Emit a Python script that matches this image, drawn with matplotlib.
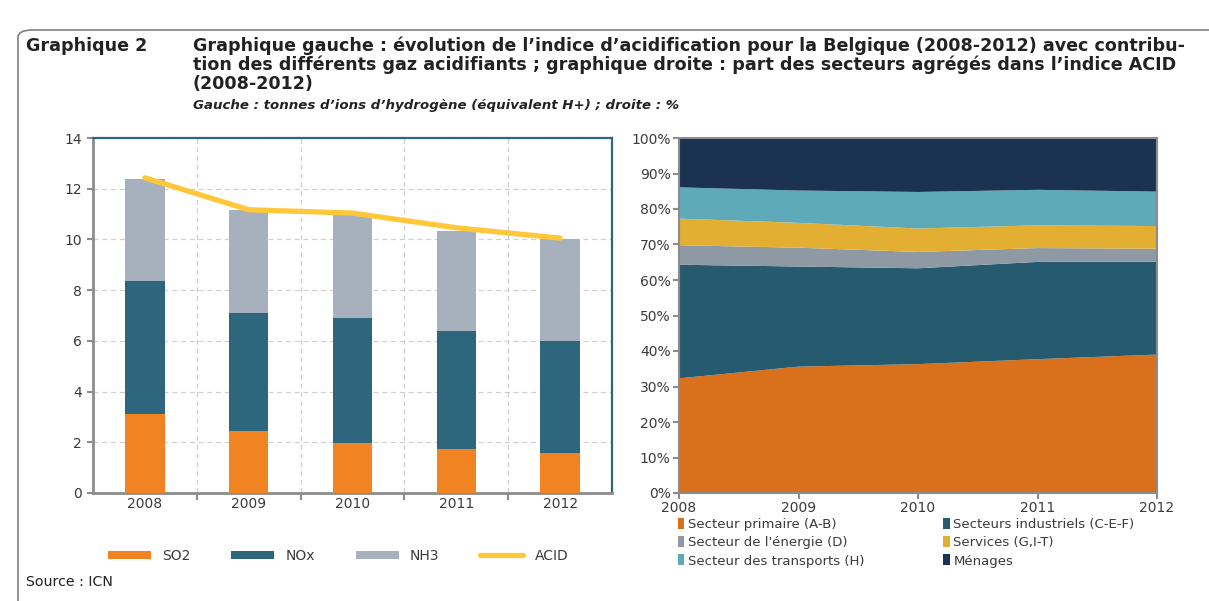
import matplotlib.pyplot as plt
import numpy as np
from matplotlib.patches import Patch, FancyBboxPatch
from matplotlib.lines import Line2D

plt.rcParams['font.family'] = ['DejaVu Sans']

years = ["2008", "2009", "2010", "2011", "2012"]

# left chart: tonnes d'ions H+
so2 = [3.13, 2.44, 1.98, 1.75, 1.59]
nox = [5.23, 4.67, 4.93, 4.64, 4.42]
nh3 = [4.03, 4.06, 4.04, 3.96, 4.02]
acid = [12.43, 11.17, 11.04, 10.46, 10.05]

# right chart: shares in %
sectors = ["Secteur primaire (A-B)", "Secteurs industriels (C-E-F)",
           "Secteur de l'énergie (D)", "Services (G,I-T)",
           "Secteur des transports (H)", "Ménages"]
primaire = [32.3, 35.6, 36.3, 37.7, 39.0]
industrie = [32.0, 28.2, 27.0, 27.4, 26.2]
energie = [5.5, 5.3, 4.6, 3.9, 3.6]
services = [7.5, 7.0, 6.6, 6.4, 6.4]
transports = [8.8, 9.1, 10.3, 10.0, 9.7]
menages = [13.9, 14.8, 15.2, 14.6, 15.1]

c_so2, c_nox, c_nh3, c_acid = "#F28322", "#2E677D", "#A7B1BE", "#FFC83A"
sector_colors = ["#D9711C", "#265A6E", "#8F99A3", "#E2AF32", "#5FAAB8", "#1B3350"]
txt = "#3a3a3a"

fig = plt.figure(figsize=(12.09, 6.01), dpi=100)
W, H = 1209, 601

def fx(px):
    return px / W

def fy(py):
    return 1 - py / H

# outer frame
frame = FancyBboxPatch((fx(18), fy(640)), fx(1230 - 18), fy(30) - fy(640),
                       boxstyle="round,pad=0,rounding_size=0.012",
                       transform=fig.transFigure, fill=False,
                       edgecolor="#7f7f7f", linewidth=1.2)
fig.patches.append(frame)

# titles
fig.text(fx(26), fy(46), "Graphique 2", fontsize=12.6, weight="bold",
         va="center", ha="left", color="#222222")
title_lines = [
    "Graphique gauche : évolution de l’indice d’acidification pour la Belgique (2008-2012) avec contribu-",
    "tion des différents gaz acidifiants ; graphique droite : part des secteurs agrégés dans l’indice ACID",
    "(2008-2012)",
]
for i, line in enumerate(title_lines):
    fig.text(fx(193), fy(46 + 19 * i), line, fontsize=12.6, weight="bold",
             va="center", ha="left", color="#222222")
fig.text(fx(193), fy(105), "Gauche : tonnes d’ions d’hydrogène (équivalent H+) ; droite : %",
         fontsize=9.6, weight="bold", style="italic", va="center", ha="left",
         color="#222222")
fig.text(fx(26), fy(582), "Source : ICN", fontsize=10.2, va="center", ha="left",
         color="#222222")

# ---- left chart ----
ax1 = fig.add_axes([fx(93), fy(493), fx(612) - fx(93), fy(138) - fy(493)])
x = np.arange(len(years))
bw = 0.38
so2_a, nox_a, nh3_a = np.array(so2), np.array(nox), np.array(nh3)
ax1.bar(x, so2_a, bw, color=c_so2, zorder=3)
ax1.bar(x, nox_a, bw, bottom=so2_a, color=c_nox, zorder=3)
ax1.bar(x, nh3_a, bw, bottom=so2_a + nox_a, color=c_nh3, zorder=3)
ax1.plot(x, acid, color=c_acid, linewidth=3.8, solid_capstyle="round", zorder=4)

ax1.set_xlim(-0.5, len(years) - 0.5)
ax1.set_ylim(0, 14)
ax1.set_yticks(np.arange(0, 15, 2))
ax1.set_xticks(x)
ax1.set_xticklabels(years)
ax1.set_xticks(np.arange(0.5, len(years) - 0.5, 1), minor=True)
ax1.tick_params(axis="x", which="major", length=0, pad=3, labelsize=10, labelcolor=txt)
ax1.tick_params(axis="x", which="minor", length=5, width=1.5, color="#8c8c8c", direction="out")
ax1.tick_params(axis="y", length=4, width=1.5, color="#8c8c8c", labelsize=10,
                labelcolor=txt, pad=4)
ax1.grid(axis="y", linestyle=(0, (4, 3)), color="#d0d0d0", linewidth=0.9, zorder=0)
for xv in np.arange(0.5, len(years) - 0.5, 1):
    ax1.axvline(xv, linestyle=(0, (4, 3)), color="#d0d0d0", linewidth=0.9, zorder=0)
for s in ["left", "bottom"]:
    ax1.spines[s].set_color("#8c8c8c")
    ax1.spines[s].set_linewidth(2)
for s in ["top", "right"]:
    ax1.spines[s].set_color("#2E677D")
    ax1.spines[s].set_linewidth(1.6)

handles1 = [Patch(facecolor=c_so2), Patch(facecolor=c_nox), Patch(facecolor=c_nh3),
            Line2D([0], [0], color=c_acid, linewidth=3.8, solid_capstyle="round")]
fig.legend(handles1, ["SO2", "NOx", "NH3", "ACID"], loc="center",
           bbox_to_anchor=(fx(338), fy(556)), ncol=4, frameon=False,
           handlelength=3.1, handleheight=0.55, handletextpad=0.8,
           columnspacing=2.95, fontsize=10, labelcolor=txt)

# ---- right chart ----
ax2 = fig.add_axes([fx(679), fy(493), fx(1157) - fx(679), fy(138) - fy(493)])
ax2.stackplot(x, primaire, industrie, energie, services, transports, menages,
              colors=sector_colors, linewidth=0)
ax2.set_xlim(0, len(years) - 1)
ax2.set_ylim(0, 100)
ax2.set_yticks(np.arange(0, 101, 10))
ax2.set_yticklabels([f"{v}%" for v in range(0, 101, 10)])
ax2.set_xticks(x)
ax2.set_xticklabels(years)
ax2.tick_params(axis="both", length=4, width=1.5, color="#8c8c8c", labelsize=10,
                labelcolor=txt, pad=2)
for s in ax2.spines.values():
    s.set_color("#8c8c8c")
    s.set_linewidth(1.5)

handles2 = [Patch(facecolor=c) for c in sector_colors]
order = [0, 2, 4, 1, 3, 5]
fig.legend([handles2[i] for i in order], [sectors[i] for i in order], loc="upper left",
           bbox_to_anchor=(fx(666), fy(506)), ncol=2, frameon=False,
           handlelength=0.5, handleheight=0.9, handletextpad=0.25,
           columnspacing=6.0, labelspacing=0.4, fontsize=9.5, labelcolor=txt)

fig.savefig("out.png", dpi=100)
